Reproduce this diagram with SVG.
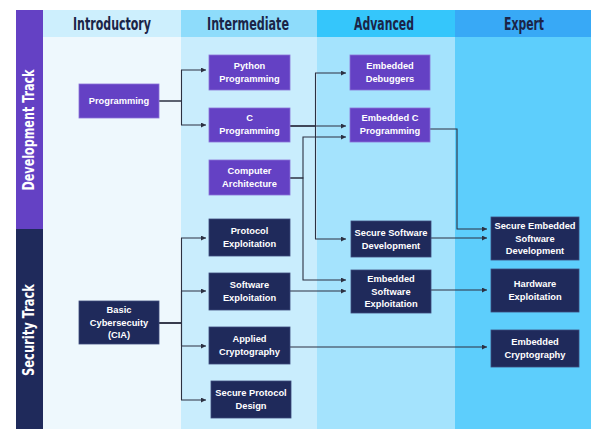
<svg xmlns="http://www.w3.org/2000/svg" width="595" height="429" viewBox="0 0 595 429">
<style>
.hdr{font-family:"DejaVu Sans Condensed","DejaVu Sans",sans-serif;font-weight:bold;font-size:18px;fill:#1b2447;text-anchor:middle}
.trk{font-family:"DejaVu Sans Condensed","DejaVu Sans",sans-serif;font-weight:bold;font-size:15px;fill:#ffffff;text-anchor:middle}
.dev{fill:#6441c4;stroke:#8a72d8;stroke-width:0.8}
.sec{fill:#1f2a5b;stroke:#3d4a7c;stroke-width:0.8}
.lbl{font-family:"Liberation Sans",Arial,sans-serif;font-weight:bold;font-size:9.3px;fill:#ffffff;text-anchor:middle}
.con{fill:none;stroke:#2c3142;stroke-width:1.1}
</style>
<defs>
<marker id="ah" markerUnits="userSpaceOnUse" markerWidth="5" markerHeight="5" refX="5" refY="2.5" orient="auto">
<path d="M0,0 L5,2.5 L0,5 z" fill="#2c3142"/>
</marker>
</defs>
<rect x="0" y="0" width="595" height="429" fill="#ffffff"/>
<g id="columns">
<rect x="43" y="37" width="138" height="392" fill="#eef8fd"/>
<rect x="181" y="37" width="136" height="392" fill="#c9edfd"/>
<rect x="317" y="37" width="138" height="392" fill="#a4e3fd"/>
<rect x="455" y="37" width="136" height="392" fill="#5dcefc"/>
<rect x="43" y="10" width="138" height="27" fill="#cdeffd"/>
<rect x="181" y="10" width="136" height="27" fill="#8edcfb"/>
<rect x="317" y="10" width="138" height="27" fill="#35c6fb"/>
<rect x="455" y="10" width="136" height="27" fill="#38a9f6"/>
<text class="hdr" x="112" y="30" textLength="78" lengthAdjust="spacingAndGlyphs">Introductory</text>
<text class="hdr" x="248" y="30" textLength="82" lengthAdjust="spacingAndGlyphs">Intermediate</text>
<text class="hdr" x="384" y="30" textLength="60" lengthAdjust="spacingAndGlyphs">Advanced</text>
<text class="hdr" x="524" y="30" textLength="40" lengthAdjust="spacingAndGlyphs">Expert</text>
</g>
<g id="tracks">
<rect x="16" y="10" width="27" height="219" fill="#6441c4"/>
<rect x="16" y="229" width="27" height="200" fill="#1f2a5b"/>
<text class="trk" transform="translate(33.5,130) rotate(-90)" textLength="121" lengthAdjust="spacingAndGlyphs">Development Track</text>
<text class="trk" transform="translate(33.5,330) rotate(-90)" textLength="92" lengthAdjust="spacingAndGlyphs">Security Track</text>
</g>
<g id="connectors">
<path class="con" marker-end="url(#ah)" d="M159,101 H181.5 V70 H206"/>
<path class="con" marker-end="url(#ah)" d="M159,101 H181.5 V125 H206"/>
<path class="con" marker-end="url(#ah)" d="M290,126 H346"/>
<path class="con" marker-end="url(#ah)" d="M290,126 H315.5 V73 H346"/>
<path class="con" marker-end="url(#ah)" d="M290,126 H315.5 V239 H346"/>
<path class="con" marker-end="url(#ah)" d="M290,178 H303 V137 H346"/>
<path class="con" marker-end="url(#ah)" d="M290,178 H303 V280 H346"/>
<path class="con" marker-end="url(#ah)" d="M290,291 H346"/>
<path class="con" marker-end="url(#ah)" d="M430,129 H457 V229 H487"/>
<path class="con" marker-end="url(#ah)" d="M431,238 H487"/>
<path class="con" marker-end="url(#ah)" d="M431,290 H487"/>
<path class="con" marker-end="url(#ah)" d="M290,347 H487"/>
<path class="con" marker-end="url(#ah)" d="M159,323 H181.5 V238 H206"/>
<path class="con" marker-end="url(#ah)" d="M159,323 H181.5 V291 H206"/>
<path class="con" marker-end="url(#ah)" d="M159,323 H181.5 V346 H206"/>
<path class="con" marker-end="url(#ah)" d="M159,323 H181.5 V400 H206"/>
</g>
<g id="n-programming"><rect class="dev" x="79" y="84" width="80" height="34"/><text class="lbl" x="119" y="104">Programming</text></g>
<g id="n-python"><rect class="dev" x="209" y="55" width="81" height="35"/><text class="lbl" x="249.5" y="69">Python</text><text class="lbl" x="249.5" y="82">Programming</text></g>
<g id="n-c"><rect class="dev" x="209" y="108" width="81" height="34"/><text class="lbl" x="249.5" y="121">C</text><text class="lbl" x="249.5" y="134">Programming</text></g>
<g id="n-arch"><rect class="dev" x="209" y="160" width="81" height="35"/><text class="lbl" x="249.5" y="174">Computer</text><text class="lbl" x="249.5" y="187">Architecture</text></g>
<g id="n-debuggers"><rect class="dev" x="350" y="55" width="80" height="35"/><text class="lbl" x="390" y="69">Embedded</text><text class="lbl" x="390" y="82">Debuggers</text></g>
<g id="n-embc"><rect class="dev" x="350" y="108" width="80" height="34"/><text class="lbl" x="390" y="121">Embedded C</text><text class="lbl" x="390" y="134">Programming</text></g>
<g id="n-basic"><rect class="sec" x="79" y="301" width="80" height="43"/><text class="lbl" x="119" y="313">Basic</text><text class="lbl" x="119" y="326">Cybersecuity</text><text class="lbl" x="119" y="338">(CIA)</text></g>
<g id="n-protexp"><rect class="sec" x="209" y="219" width="81" height="37"/><text class="lbl" x="249.5" y="234">Protocol</text><text class="lbl" x="249.5" y="247">Exploitation</text></g>
<g id="n-swexp"><rect class="sec" x="209" y="273" width="81" height="37"/><text class="lbl" x="249.5" y="288">Software</text><text class="lbl" x="249.5" y="301">Exploitation</text></g>
<g id="n-crypto"><rect class="sec" x="209" y="327" width="81" height="37"/><text class="lbl" x="249.5" y="342">Applied</text><text class="lbl" x="249.5" y="355">Cryptography</text></g>
<g id="n-protdesign"><rect class="sec" x="211" y="381" width="80" height="37"/><text class="lbl" x="251" y="396">Secure Protocol</text><text class="lbl" x="251" y="409">Design</text></g>
<g id="n-securesw"><rect class="sec" x="351" y="221" width="80" height="36"/><text class="lbl" x="391" y="236">Secure Software</text><text class="lbl" x="391" y="249">Development</text></g>
<g id="n-embswexp"><rect class="sec" x="351" y="270" width="80" height="43"/><text class="lbl" x="391" y="282">Embedded</text><text class="lbl" x="391" y="295">Software</text><text class="lbl" x="391" y="307">Exploitation</text></g>
<g id="n-secembsw"><rect class="sec" x="491" y="217" width="88" height="43"/><text class="lbl" x="535" y="229">Secure Embedded</text><text class="lbl" x="535" y="242">Software</text><text class="lbl" x="535" y="254">Development</text></g>
<g id="n-hwexp"><rect class="sec" x="491" y="269" width="88" height="43"/><text class="lbl" x="535" y="287">Hardware</text><text class="lbl" x="535" y="300">Exploitation</text></g>
<g id="n-embcrypto"><rect class="sec" x="491" y="330" width="88" height="37"/><text class="lbl" x="535" y="345">Embedded</text><text class="lbl" x="535" y="358">Cryptography</text></g>
</svg>
